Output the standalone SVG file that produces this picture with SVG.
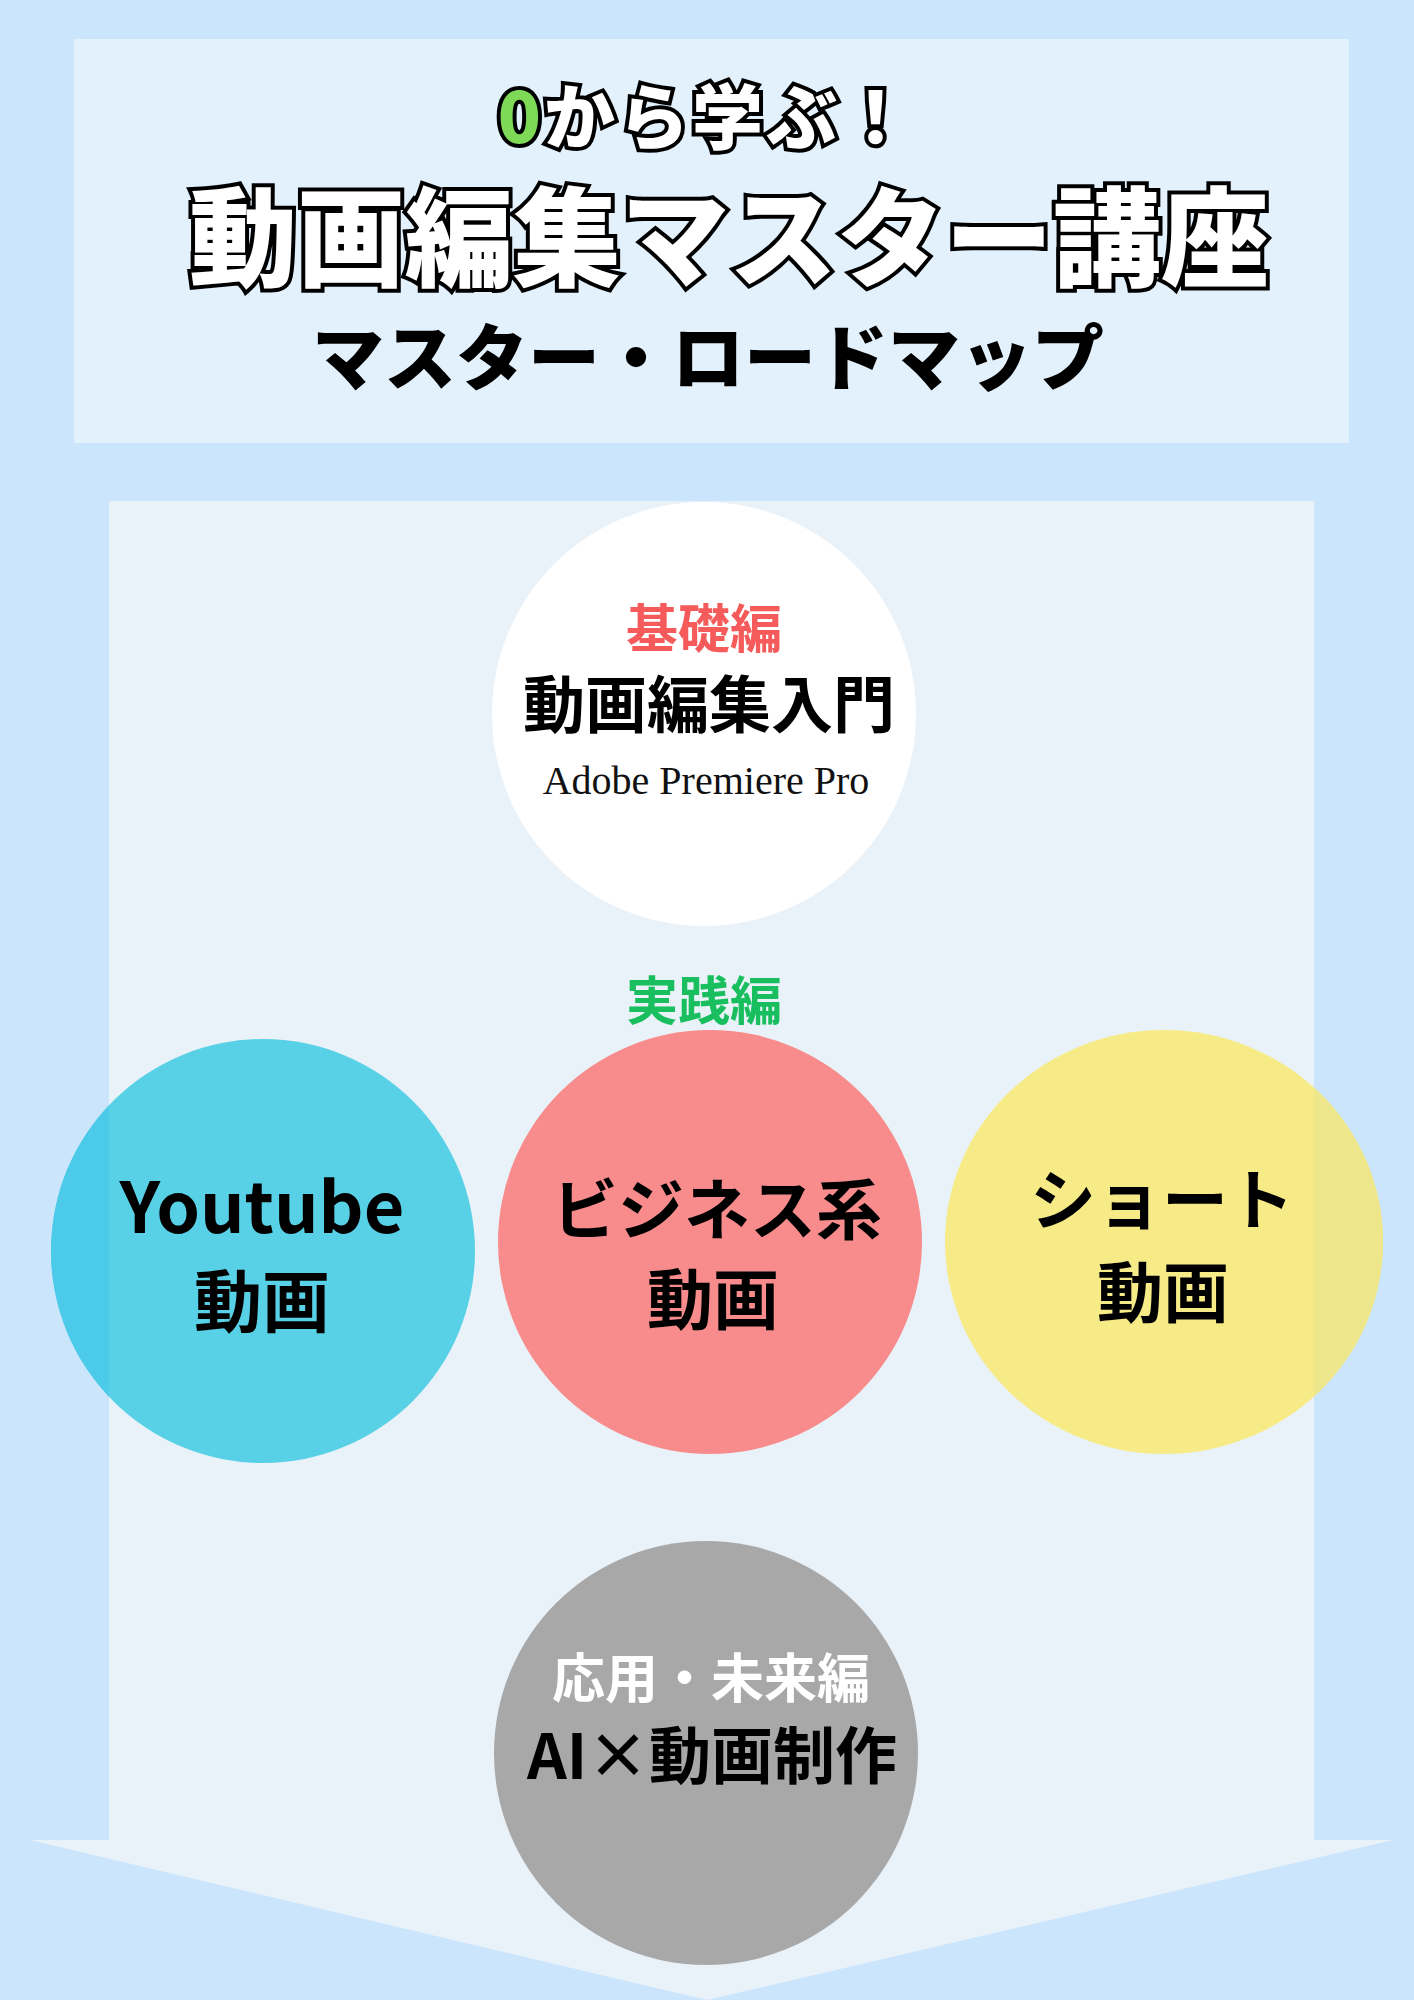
<svg xmlns="http://www.w3.org/2000/svg" width="1414" height="2000" viewBox="0 0 1414 2000">
<defs>
<style>
.jp{font-family:"Noto Sans CJK JP","Noto Sans",sans-serif;font-weight:700;text-anchor:middle}
.blk{font-weight:900}
.ttl{fill:#fff;stroke:#000;stroke-width:8;stroke-linejoin:miter;paint-order:stroke}
.dark{fill:#000}
.serif{font-family:"Liberation Serif",serif;text-anchor:middle;fill:#111}
</style>
<clipPath id="outL"><rect x="0" y="0" width="109" height="2000"/></clipPath>
<clipPath id="outR"><rect x="1314" y="0" width="100" height="2000"/></clipPath>
</defs>
<rect x="0" y="0" width="1414" height="2000" fill="#CAE5FC"/>
<g id="header">
<rect x="74" y="39" width="1275" height="404" fill="#E3F1FD"/>
<text class="jp blk ttl" x="541" y="143" font-size="71" style="text-anchor:end;fill:#7ED957">0</text>
<text class="jp blk ttl" x="544" y="143" font-size="71" letter-spacing="3" style="text-anchor:start">から学ぶ！</text>
<text class="jp blk ttl" x="729" y="278" font-size="108">動画編集マスター講座</text>
<text class="jp blk dark" x="708" y="384" font-size="72">マスター・ロードマップ</text>
</g>
<g id="connectors">
<polygon points="109,501 1314,501 1314,1840 1393,1840 707,2000 30,1840 109,1840" fill="#EAF2F9"/>
</g>
<g id="node-basic">
<circle cx="704" cy="714" r="212" fill="#FFFFFF"/>
<text class="jp" x="704" y="648" font-size="52" fill="#F55B5B">基礎編</text>
<text class="jp dark" x="709" y="728" font-size="62">動画編集入門</text>
<text class="serif" x="706" y="794" font-size="40">Adobe Premiere Pro</text>
</g>
<g id="label-practice">
<text class="jp" x="704" y="1020" font-size="52" fill="#19BF5E">実践編</text>
</g>
<g id="node-youtube">
<circle cx="263" cy="1251" r="212" fill="#58D0E6"/>
<circle cx="263" cy="1251" r="212" fill="#4BCBE9" clip-path="url(#outL)"/>
<text class="jp dark" x="262" y="1233" font-size="70">Youtube</text>
<text class="jp dark" x="262" y="1327" font-size="68">動画</text>
</g>
<g id="node-business">
<circle cx="710" cy="1242" r="212" fill="#F88B8B"/>
<text class="jp dark" x="717" y="1234" font-size="66">ビジネス系</text>
<text class="jp dark" x="713" y="1324" font-size="66">動画</text>
</g>
<g id="node-short">
<ellipse cx="1164" cy="1242" rx="219" ry="212" fill="#F7EB87"/>
<ellipse cx="1164" cy="1242" rx="219" ry="212" fill="#EDE68A" clip-path="url(#outR)"/>
<text class="jp dark" x="1162" y="1224" font-size="66">ショート</text>
<text class="jp dark" x="1163" y="1317" font-size="66">動画</text>
</g>
<g id="node-advanced">
<circle cx="706" cy="1753" r="212" fill="#A8A8A8"/>
<text class="jp" x="711" y="1698" font-size="53" fill="#FFFFFF">応用・未来編</text>
<text class="jp dark" x="712" y="1779" font-size="62">AI×動画制作</text>
</g>
</svg>
